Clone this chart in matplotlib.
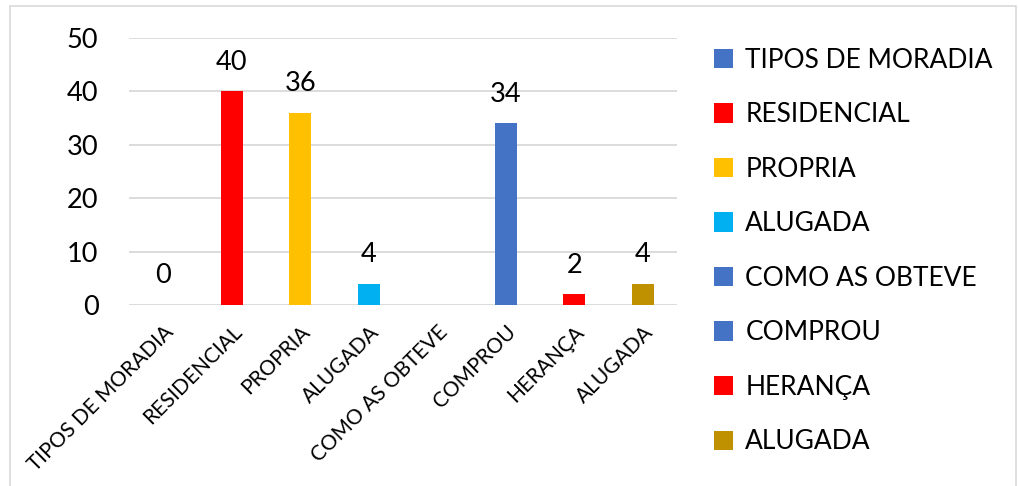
import numpy as np
import matplotlib
matplotlib.use('Agg')
import matplotlib.pyplot as plt
from matplotlib.patches import Patch, Rectangle

# Chart data
categories = ['TIPOS DE MORADIA', 'RESIDENCIAL', 'PROPRIA', 'ALUGADA',
              'COMO AS OBTEVE', 'COMPROU', 'HERANÇA', 'ALUGADA']
values = [0, 40, 36, 4, np.nan, 34, 2, 4]
colors = ['#4472C4', '#FF0000', '#FFC000', '#00B0F0',
          '#4472C4', '#4472C4', '#FF0000', '#BF9000']
yticks = [0, 10, 20, 30, 40, 50]

plt.rcParams['font.family'] = ['Lato', 'DejaVu Sans']

fig = plt.figure(figsize=(10.19, 4.86), dpi=100)
ax = fig.add_axes([0.1266, 0.3724, 0.5378, 0.5494])

x = np.arange(len(categories))
bars = ax.bar(x, np.nan_to_num(values), width=0.32, color=colors, zorder=3)

# Data labels (skip the empty category)
for xi, v in zip(x, values):
    if np.isnan(v):
        continue
    ax.annotate(f'{int(v)}', (xi, v), xytext=(0, 12), textcoords='offset points',
                ha='center', va='bottom', fontsize=19.5)

ax.set_xlim(-0.5, len(categories) - 0.5)
ax.set_ylim(0, 50)
ax.set_yticks(yticks)
ax.yaxis.grid(True, color='#D9D9D9', linewidth=1.3, zorder=0)
ax.set_axisbelow(True)
for s in ax.spines.values():
    s.set_visible(False)
ax.tick_params(axis='both', length=0)
ax.tick_params(axis='y', labelsize=19.5, pad=22)
ax.set_xticks(x)
ax.set_xticklabels(categories, rotation=45, ha='right', rotation_mode='anchor',
                   fontsize=15)
ax.tick_params(axis='x', pad=12)

# Legend on the right
handles = [Patch(facecolor=c, label=l) for c, l in zip(colors, categories)]
fig.legend(handles=handles, loc='upper left', bbox_to_anchor=(0.677, 0.951),
           frameon=False, fontsize=19, handlelength=0.75, handleheight=0.75,
           handletextpad=0.45, labelspacing=1.12)

# Chart border
fig.patches.append(Rectangle((10 / 1019, -0.01), 1006 / 1019, 1 - 6 / 486 + 0.01,
                             transform=fig.transFigure, fill=False,
                             edgecolor='#D9D9D9', linewidth=1.2))

fig.savefig('out.png', dpi=100)
